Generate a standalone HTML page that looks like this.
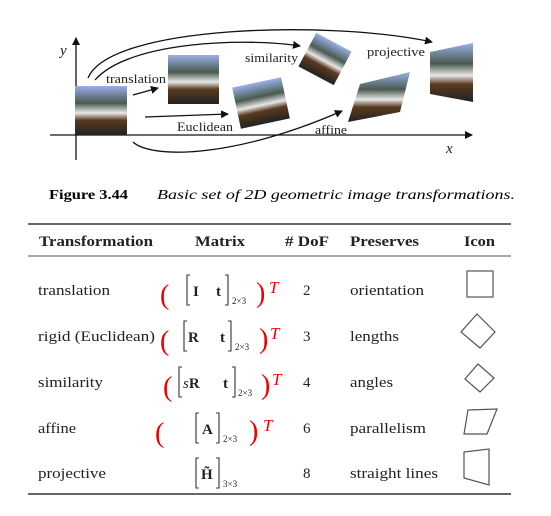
<!DOCTYPE html><html><head><style>body{margin:0;background:#fff}svg{display:block}</style></head><body>
<svg width="551" height="516" viewBox="0 0 551 516" xmlns="http://www.w3.org/2000/svg" font-family="Liberation Serif, serif">
<defs>
<marker id="a" markerWidth="8" markerHeight="8" refX="7" refY="4" orient="auto" markerUnits="userSpaceOnUse"><path d="M0,0L8,4L0,8z" fill="#111"/></marker>
<linearGradient id="g" x1="0" y1="0" x2="0" y2="1"><stop offset="0" stop-color="#9ab0e8"/><stop offset="0.35" stop-color="#4a5a50"/><stop offset="0.55" stop-color="#e8e8e8"/><stop offset="0.7" stop-color="#5a3a20"/><stop offset="1" stop-color="#222"/></linearGradient>
</defs>
<g stroke="#111" stroke-width="1.3" fill="none">
<line x1="76" y1="160" x2="76" y2="38" marker-end="url(#a)"/>
<line x1="50" y1="135" x2="472" y2="135" marker-end="url(#a)"/>
<path d="M88,78 C110,25 330,20 432,42" marker-end="url(#a)"/>
<path d="M95,80 C130,40 250,38 300,46" marker-end="url(#a)"/>
<path d="M133,95 L158,88" marker-end="url(#a)"/>
<path d="M145,117 L228,114" marker-end="url(#a)"/>
<path d="M133,142 C150,158 230,160 342,111" marker-end="url(#a)"/>
</g>
<rect x="75" y="86" width="52" height="49" fill="url(#g)"/>
<rect x="168" y="55" width="51" height="49" fill="url(#g)"/>
<rect x="236" y="82" width="50" height="42" fill="url(#g)" transform="rotate(-12 261 103)"/>
<rect x="305" y="40" width="40" height="38" fill="url(#g)" transform="rotate(28 325 59)"/>
<polygon points="360,84 410,72 400,112 348,122" fill="url(#g)"/>
<polygon points="430,52 473,43 473,102 430,94" fill="url(#g)"/>
<g font-size="13" fill="#222">
<text x="106" y="83" textLength="60" lengthAdjust="spacingAndGlyphs">translation</text><text x="245" y="62" textLength="53" lengthAdjust="spacingAndGlyphs">similarity</text><text x="367" y="56" textLength="58" lengthAdjust="spacingAndGlyphs">projective</text>
<text x="177" y="131" textLength="56" lengthAdjust="spacingAndGlyphs">Euclidean</text><text x="315" y="134" textLength="32" lengthAdjust="spacingAndGlyphs">affine</text>
<text x="60" y="55" font-style="italic" font-size="15">y</text><text x="446" y="153" font-style="italic" font-size="15">x</text>
</g>
<text x="49" y="199" font-size="14" font-weight="bold" textLength="79" lengthAdjust="spacingAndGlyphs">Figure 3.44</text>
<text x="157" y="199" font-size="14" font-style="italic" textLength="358" lengthAdjust="spacingAndGlyphs">Basic set of 2D geometric image transformations.</text>
<g stroke="#333" stroke-width="1.5"><line x1="28" y1="224" x2="511" y2="224"/><line x1="28" y1="256" x2="511" y2="256" stroke="#888"/><line x1="28" y1="494" x2="511" y2="494"/></g>
<g font-size="15" font-weight="bold" fill="#222">
<text x="39" y="246" textLength="114" lengthAdjust="spacingAndGlyphs">Transformation</text><text x="195" y="246" textLength="50" lengthAdjust="spacingAndGlyphs">Matrix</text><text x="285" y="246" textLength="44" lengthAdjust="spacingAndGlyphs"># DoF</text><text x="350" y="246" textLength="69" lengthAdjust="spacingAndGlyphs">Preserves</text><text x="464" y="246" textLength="31" lengthAdjust="spacingAndGlyphs">Icon</text></g>
<g font-size="15" fill="#222">
<text x="38" y="295" textLength="72" lengthAdjust="spacingAndGlyphs">translation</text><text x="38" y="341" textLength="117" lengthAdjust="spacingAndGlyphs">rigid (Euclidean)</text><text x="38" y="387" textLength="65" lengthAdjust="spacingAndGlyphs">similarity</text><text x="38" y="433" textLength="38" lengthAdjust="spacingAndGlyphs">affine</text><text x="38" y="478" textLength="68" lengthAdjust="spacingAndGlyphs">projective</text>
<text x="303" y="295">2</text><text x="303" y="341">3</text><text x="303" y="387">4</text><text x="303" y="433">6</text><text x="303" y="478">8</text>
<text x="350" y="295" textLength="74" lengthAdjust="spacingAndGlyphs">orientation</text><text x="350" y="341" textLength="49" lengthAdjust="spacingAndGlyphs">lengths</text><text x="350" y="387" textLength="43" lengthAdjust="spacingAndGlyphs">angles</text><text x="350" y="433" textLength="76" lengthAdjust="spacingAndGlyphs">parallelism</text><text x="350" y="478" textLength="88" lengthAdjust="spacingAndGlyphs">straight lines</text>
</g>
<g stroke="#333" stroke-width="1.1" fill="none">
<path d="M190,275 h-3 v30 h3 M225,275 h3 v30 h-3"/>
<path d="M187,321 h-3 v30 h3 M228,321 h3 v30 h-3"/>
<path d="M182,367 h-3 v30 h3 M232,367 h3 v30 h-3"/>
<path d="M199,413 h-3 v30 h3 M216,413 h3 v30 h-3"/>
<path d="M199,458 h-3 v30 h3 M216,458 h3 v30 h-3"/>
</g>
<g fill="#222" font-size="15" font-weight="bold">
<text x="193" y="296">I</text><text x="216" y="296">t</text>
<text x="188" y="342">R</text><text x="220" y="342">t</text>
<text x="183" y="388"><tspan font-style="italic" font-weight="normal">s</tspan>R</text><text x="223" y="388">t</text>
<text x="202" y="434">A</text>
<text x="201" y="479">H̃</text>
</g>
<g fill="#222" font-size="9"><text x="232" y="304">2×3</text><text x="235" y="350">2×3</text><text x="238" y="396">2×3</text><text x="223" y="442">2×3</text><text x="223" y="487">3×3</text></g>
<g fill="#e00" font-size="28"><text x="160" y="304">(</text><text x="256" y="302">)</text><text x="160" y="350">(</text><text x="259" y="348">)</text><text x="163" y="396">(</text><text x="261" y="394">)</text><text x="155" y="442">(</text><text x="249" y="440">)</text></g>
<g fill="#e00" font-size="17" font-style="italic"><text x="269" y="293">T</text><text x="270" y="339">T</text><text x="272" y="385">T</text><text x="263" y="431">T</text></g>
<g stroke="#555" stroke-width="1.2" fill="none">
<rect x="467" y="271" width="26" height="26"/>
<polygon points="477,314 495,332 480,348 461,332"/>
<polygon points="478,364 494,378 480,392 465,379"/>
<polygon points="468,410 497,409 487,434 464,434"/>
<polygon points="464,452 489,449 489,485 464,478"/>
</g>
</svg></body></html>
